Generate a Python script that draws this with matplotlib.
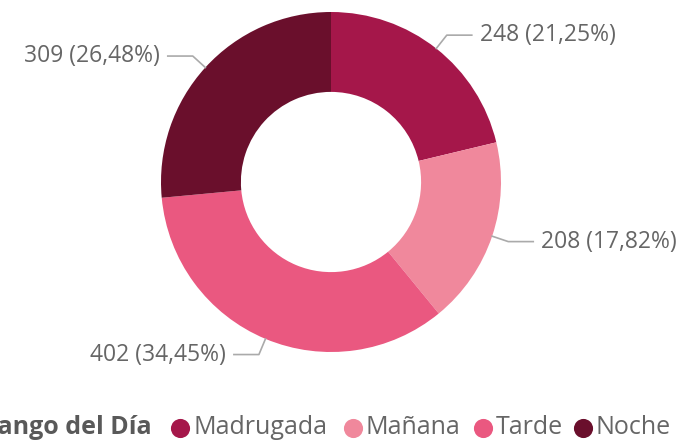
import numpy as np
import matplotlib.pyplot as plt

categories = ["Madrugada", "Mañana", "Tarde", "Noche"]
values = [248, 208, 402, 309]
colors = ["#A5174A", "#F0889C", "#EA5880", "#6A0F2C"]
legend_title = "Rango del Día"

plt.rcParams['font.family'] = ['Open Sans', 'DejaVu Sans']

W, H = 681, 442
fig = plt.figure(figsize=(W / 100, H / 100), dpi=100)
ax = fig.add_axes([0, 0, 1, 1])

cx, cy, R = 331, 182, 170
# y axis is flipped, so counterclock=True draws clockwise on screen; start at top
wedges, _ = ax.pie(values, colors=colors, startangle=-90, counterclock=True,
                   center=(cx, cy), radius=R, frame=True,
                   wedgeprops=dict(width=R * 0.47, linewidth=0))
ax.set_xlim(0, W)
ax.set_ylim(H, 0)
ax.set_aspect('equal')
ax.axis('off')

total = sum(values)
start = 0
for v in values:
    frac = v / total
    mid = (start + frac / 2) * 2 * np.pi
    start += frac
    sx = cx + R * np.sin(mid)
    sy = cy - R * np.cos(mid)
    ex = cx + (R + 17) * np.sin(mid)
    ey = cy - (R + 17) * np.cos(mid)
    side = 1 if np.sin(mid) >= 0 else -1
    hx = ex + side * 25
    ax.plot([sx, ex, hx], [sy, ey, ey], color="#AAAAAA", lw=1.2)
    label = f"{v} ({frac * 100:.2f}%)".replace(".", ",")
    ax.text(hx + side * 8, ey, label, ha='left' if side > 0 else 'right',
            va='center', fontsize=16.5, color="#666666")

# legend row
ly = 428
ax.text(152, ly, legend_title, ha='right', va='center', fontsize=18,
        fontweight='bold', color="#595959")
marker_x = [180, 353, 483, 583]
for name, col, mx in zip(categories, colors, marker_x):
    ax.scatter([mx], [ly], s=190, color=col, clip_on=False, linewidths=0)
    ax.text(mx + 13, ly, name, ha='left', va='center', fontsize=18,
            color="#666666")

fig.savefig("out.png", dpi=100)
